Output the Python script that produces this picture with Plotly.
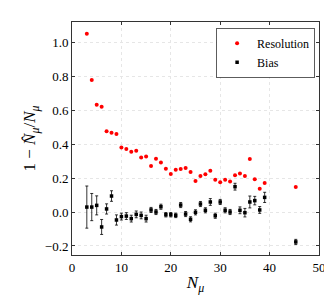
import plotly.graph_objects as go

n_mu = [3, 4, 5, 6, 7, 8, 9, 10, 11, 12, 13, 14, 15, 16, 17, 18, 19, 20, 21, 22,
        23, 24, 25, 26, 27, 28, 29, 30, 31, 32, 33, 34, 35, 36, 37, 38, 39, 45.3]
resolution = [1.049, 0.776, 0.631, 0.620, 0.475, 0.467, 0.459, 0.380, 0.371, 0.355,
              0.361, 0.320, 0.327, 0.271, 0.314, 0.292, 0.255, 0.224, 0.249, 0.253,
              0.259, 0.235, 0.182, 0.212, 0.222, 0.243, 0.190, 0.175, 0.190, 0.180,
              0.216, 0.227, 0.212, 0.312, 0.192, 0.137, 0.171, 0.147]
bias = [0.029, 0.029, 0.039, -0.088, 0.018, 0.094, -0.047, -0.027, -0.024, -0.039,
        -0.014, -0.020, -0.039, 0.012, 0.000, 0.031, -0.016, -0.016, -0.020, 0.041,
        -0.012, -0.043, -0.002, 0.047, 0.010, 0.059, -0.022, 0.059, 0.010, 0.000,
        0.149, 0.010, -0.004, 0.059, 0.067, 0.012, 0.086, -0.176]
bias_err = [0.124, 0.080, 0.056, 0.044, 0.030, 0.031, 0.030, 0.020, 0.020, 0.020,
            0.020, 0.020, 0.020, 0.015, 0.015, 0.015, 0.013, 0.013, 0.013, 0.015,
            0.015, 0.015, 0.015, 0.015, 0.015, 0.020, 0.015, 0.015, 0.015, 0.015,
            0.020, 0.020, 0.025, 0.035, 0.025, 0.020, 0.030, 0.015]

font = "Liberation Serif"

fig = go.Figure()
fig.add_trace(go.Scatter(
    x=n_mu, y=resolution, mode="markers", name="Resolution",
    marker=dict(color="red", size=4, symbol="circle", line=dict(width=0)),
))
fig.add_trace(go.Scatter(
    x=n_mu, y=bias, mode="markers", name="Bias",
    marker=dict(color="black", size=3.5, symbol="square", line=dict(width=0)),
    error_y=dict(type="data", array=bias_err, visible=True, color="black",
                 thickness=0.8, width=1.5),
))

axis_common = dict(
    showline=True, linecolor="#333", linewidth=1, mirror="ticks",
    ticks="inside", ticklen=3, tickcolor="#333",
    showgrid=True, gridcolor="#e6e6e6", griddash="dot", gridwidth=0.6,
    zeroline=False, tickfont=dict(family=font, size=13, color="black"),
)

fig.update_layout(
    width=332, height=295,
    margin=dict(l=64, r=21, t=14, b=48),
    paper_bgcolor="white", plot_bgcolor="white",
    font=dict(family=font, color="black", size=13),
    showlegend=True,
    legend=dict(x=0.985, y=0.975, xanchor="right", yanchor="top",
                bordercolor="#333", borderwidth=0.8, bgcolor="white",
                font=dict(family=font, size=12), itemwidth=30,
                tracegroupgap=0),
    xaxis=dict(range=[0, 50], tickvals=[0, 10, 20, 30, 40, 50],
               title=dict(text="<i>N</i><sub><i>μ</i></sub>", font=dict(size=17, family=font),
                          standoff=2),
               **axis_common),
    yaxis=dict(range=[-0.253, 1.118], tickvals=[-0.2, 0.0, 0.2, 0.4, 0.6, 0.8, 1.0],
               ticktext=["−0.2", "0.0", "0.2", "0.4", "0.6", "0.8", "1.0"],
               title=dict(text="1 − <i>N̂</i><sub><i>μ</i></sub>/<i>N</i><sub><i>μ</i></sub>",
                          font=dict(size=17, family=font), standoff=4),
               **axis_common),
)

fig.write_html("out.html")
